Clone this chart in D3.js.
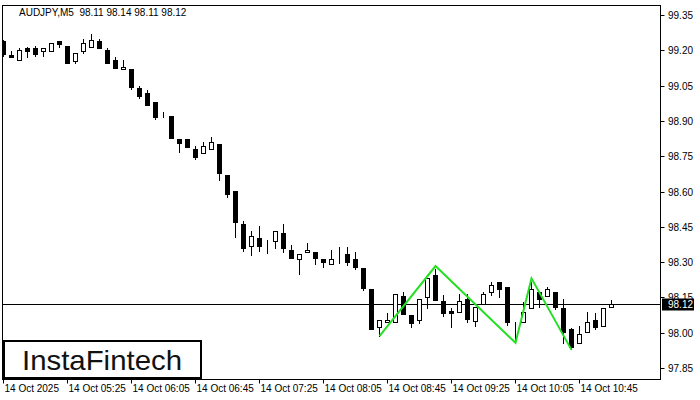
<!DOCTYPE html>
<html><head><meta charset="utf-8">
<script src="https://cdn.jsdelivr.net/npm/d3@7"></script>
<style>body{margin:0;background:#fff}svg{display:block}text{font-family:"Liberation Sans",Arial,sans-serif}</style>
</head><body><svg id="c" width="700" height="400"></svg>
<script>
const openV=[99.24,99.18,99.157,99.208,99.208,99.198,99.198,99.238,99.218,99.156,99.198,99.215,99.24,99.201,99.159,99.119,99.121,99.039,99.02,98.98,98.929,98.921,98.823,98.823,98.781,98.762,98.779,98.802,98.67,98.602,98.462,98.37,98.401,98.381,98.391,98.422,98.351,98.312,98.342,98.343,98.313,98.291,98.32,98.334,98.312,98.274,98.184,98.023,98.044,98.044,98.156,98.075,98.054,98.153,98.245,98.135,98.094,98.089,98.142,98.051,98.121,98.172,98.214,98.193,98.031,98.044,98.104,98.172,98.155,98.172,98.104,98.014,97.955,98.002,98.054,98.03,98.11];
const highV=[99.245,99.198,99.208,99.215,99.218,99.208,99.23,99.238,99.218,99.187,99.247,99.268,99.247,99.208,99.17,99.159,99.121,99.048,99.031,98.98,98.939,98.921,98.823,98.823,98.793,98.809,98.832,98.802,98.67,98.602,98.475,98.432,98.453,98.394,98.432,98.462,98.371,98.333,98.381,98.343,98.313,98.351,98.363,98.363,98.342,98.274,98.184,98.054,98.082,98.163,98.173,98.075,98.142,98.231,98.269,98.16,98.104,98.163,98.164,98.11,98.172,98.214,98.214,98.193,98.044,98.132,98.217,98.172,98.193,98.172,98.142,98.021,98.03,98.089,98.082,98.104,98.14];
const lowV=[99.176,99.17,99.157,99.17,99.177,99.177,99.198,99.215,99.147,99.147,99.187,99.215,99.208,99.147,99.126,99.119,99.037,98.999,98.969,98.909,98.918,98.829,98.769,98.79,98.739,98.762,98.779,98.649,98.578,98.408,98.348,98.331,98.348,98.34,98.361,98.342,98.319,98.249,98.342,98.291,98.28,98.291,98.295,98.288,98.271,98.181,98.014,97.986,98.044,98.044,98.079,98.023,98.042,98.104,98.139,98.072,98.025,98.089,98.047,98.03,98.121,98.161,98.153,98.033,97.957,98.044,98.104,98.11,98.155,98.101,97.955,97.93,97.955,98.002,98.016,98.03,98.11];
const closeV=[99.184,99.17,99.20,99.198,99.184,99.208,99.23,99.227,99.147,99.187,99.23,99.244,99.208,99.147,99.126,99.128,99.045,99.007,98.969,98.918,98.929,98.829,98.807,98.79,98.748,98.793,98.809,98.68,98.591,98.472,98.361,98.411,98.37,98.381,98.432,98.361,98.319,98.333,98.351,98.319,98.302,98.312,98.32,98.302,98.28,98.189,98.014,98.054,98.053,98.163,98.079,98.042,98.142,98.231,98.139,98.082,98.082,98.133,98.058,98.11,98.164,98.203,98.184,98.044,98.031,98.089,98.184,98.142,98.184,98.11,98.002,97.94,97.994,98.044,98.023,98.104,98.12];
const yTicks=[99.35,99.20,99.05,98.90,98.75,98.60,98.45,98.30,98.15,98.00,97.85];
const xTickIdx=[0,8,16,24,32,40,48,56,64,72];
const xTickLabels=["14 Oct 2025","14 Oct 05:25","14 Oct 06:05","14 Oct 06:45","14 Oct 07:25","14 Oct 08:05","14 Oct 08:45","14 Oct 09:25","14 Oct 10:05","14 Oct 10:45"];
const patternIdx=[47,54,64,66,71];
const patternPrice=[97.985,98.283,97.957,98.231,97.927];
const currentPrice=98.12;
const titleText="AUDJPY,M5  98.11 98.14 98.11 98.12";

const svg=d3.select("#c");
svg.append("rect").attr("width",700).attr("height",400).attr("fill","#fff");
const L=2.5,R=660.5,T=5.5,B=379.5;
const x=d3.scaleLinear().domain([0,76]).range([3.5,611.5]);
const y=d3.scaleLinear().domain([97.85,99.35]).range([368,15]);

svg.append("clipPath").attr("id","pc").append("rect").attr("x",L).attr("y",T).attr("width",R-L).attr("height",B-T);
const plot=svg.append("g").attr("clip-path","url(#pc)");

plot.append("line").attr("x1",L).attr("x2",R).attr("y1",Math.round(y(currentPrice))+0.5).attr("y2",Math.round(y(currentPrice))+0.5).attr("stroke","#000").attr("stroke-width",1);

const data=openV.map((o,i)=>({i,o,h:highV[i],l:lowV[i],c:closeV[i]}));
const g=plot.selectAll("g.cd").data(data).enter().append("g");
g.append("line").attr("x1",d=>x(d.i)).attr("x2",d=>x(d.i)).attr("y1",d=>Math.round(y(d.h))).attr("y2",d=>Math.round(y(d.l))+1).attr("stroke","#000").attr("stroke-width",1);
g.append("rect")
 .attr("x",d=>x(d.i)-2)
 .attr("y",d=>Math.round(y(Math.max(d.o,d.c)))+0.5)
 .attr("width",4)
 .attr("height",d=>Math.max(0,Math.round(y(Math.min(d.o,d.c)))-Math.round(y(Math.max(d.o,d.c)))))
 .attr("fill",d=>d.c<d.o?"#000":"#fff").attr("stroke","#000").attr("stroke-width",1);

plot.append("path").datum(patternIdx.map((k,j)=>[x(k),y(patternPrice[j])]))
 .attr("d",d3.line()).attr("fill","none").attr("stroke","#22e022").attr("stroke-width",2);

svg.append("rect").attr("x",L).attr("y",T).attr("width",R-L).attr("height",B-T).attr("fill","none").attr("stroke","#000").attr("stroke-width",1);

const ya=svg.append("g");
yTicks.forEach(v=>{
  const yy=Math.round(y(v))+0.5;
  ya.append("line").attr("x1",R).attr("x2",R+4).attr("y1",yy).attr("y2",yy).attr("stroke","#000");
  ya.append("text").attr("x",668).attr("y",yy+3.5).attr("font-size",10).attr("fill","#000").text(v.toFixed(2));
});
const cy=Math.round(y(currentPrice))+0.5;
ya.append("rect").attr("x",662).attr("y",cy-6).attr("width",32).attr("height",12).attr("fill","#000");
ya.append("text").attr("x",668).attr("y",cy+3.5).attr("font-size",10).attr("fill","#fff").text(currentPrice.toFixed(2));

const xa=svg.append("g");
xTickIdx.forEach((k,j)=>{
  const xx=Math.floor(x(k))+0.5;
  xa.append("line").attr("x1",xx).attr("x2",xx).attr("y1",B).attr("y2",B+4).attr("stroke","#000");
  xa.append("text").attr("x",xx+1).attr("y",392).attr("font-size",10).attr("fill","#000").text(xTickLabels[j]);
});

svg.append("text").attr("x",19).attr("y",16).attr("font-size",10).attr("fill","#000").style("white-space","pre").text(titleText);

svg.append("rect").attr("x",4).attr("y",341).attr("width",197).attr("height",37).attr("fill","#fff").attr("stroke","#000").attr("stroke-width",2);
svg.append("text").attr("x",22).attr("y",370).attr("font-size",28).attr("font-family","'Open Sans',sans-serif")
  .attr("textLength",160).attr("lengthAdjust","spacingAndGlyphs").attr("fill","#111").text("InstaFintech");
</script></body></html>
